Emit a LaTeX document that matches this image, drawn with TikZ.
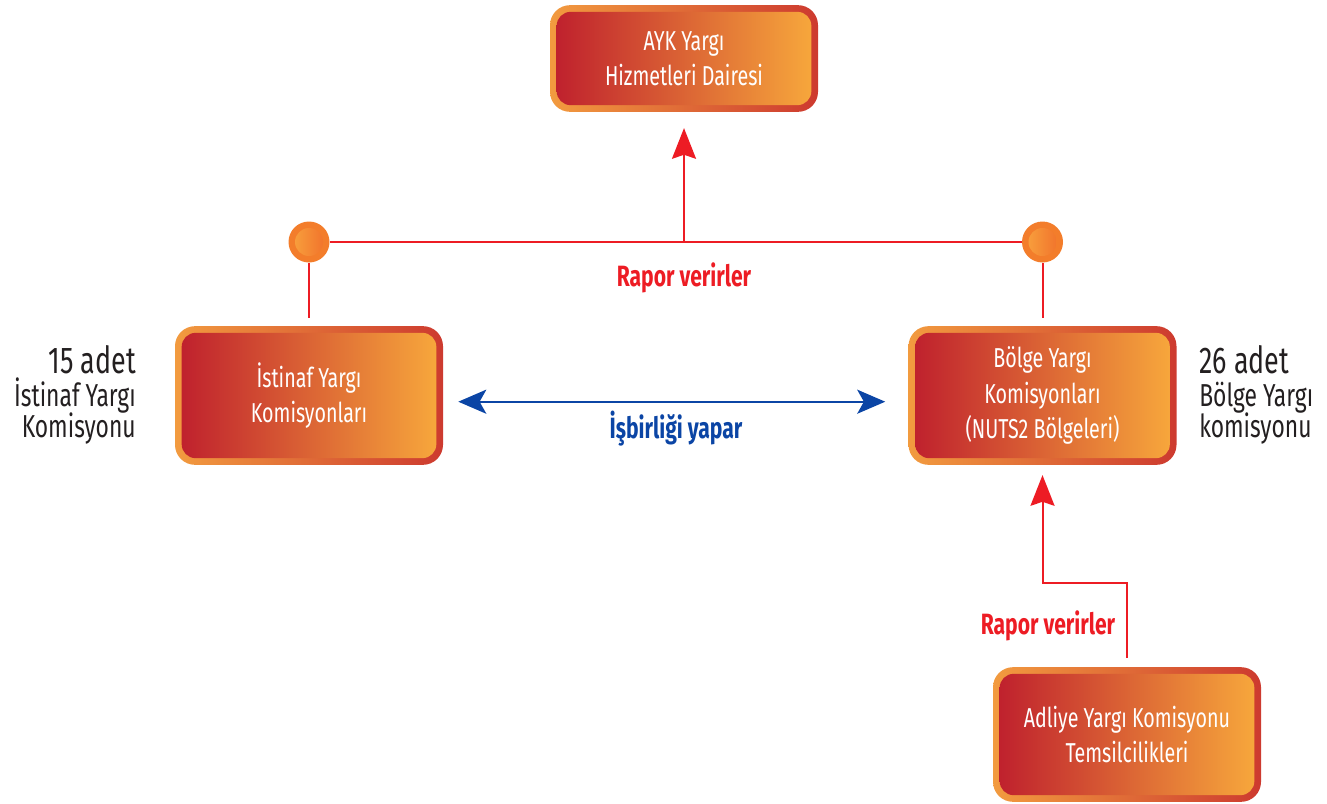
\documentclass[tikz,border=0pt]{standalone}
\usepackage{fontspec}
\setmainfont{Fira Sans}[FakeStretch=0.72]
\usetikzlibrary{arrows.meta}
\definecolor{cred}{HTML}{BE1E2D}
\definecolor{corange}{HTML}{F8AA3C}
\definecolor{bordA}{HTML}{F29B3F}
\definecolor{bordB}{HTML}{CD3A2F}
\definecolor{lred}{HTML}{ED1C24}
\definecolor{lblue}{HTML}{0B45A5}
\definecolor{ring}{HTML}{F37D2B}
\definecolor{dotA}{HTML}{F9A63F}
\definecolor{dotB}{HTML}{F06C29}
\definecolor{sidegray}{HTML}{231F20}
\begin{document}
\begin{tikzpicture}[x=0.75pt,y=-0.75pt,
  box/.style={rounded corners=15pt, minimum width=201pt, inner sep=0pt,
    left color=bordA, right color=bordB, text=white, align=center,
    font=\fontsize{20.5}{26.5}\selectfont,
    path picture={\shade[left color=cred, right color=corange, rounded corners=10.5pt]
      ([shift={(5pt,5pt)}]path picture bounding box.south west) rectangle
      ([shift={(-5pt,-5pt)}]path picture bounding box.north east);}},
  dotnode/.style={circle, minimum size=30.75pt, inner sep=0pt, fill=ring,
    path picture={\shade[left color=dotA, right color=dotB]
      (path picture bounding box.center) circle (10.5pt);}},
  redline/.style={draw=lred, line width=1.5pt},
  redarr/.style={redline, -{Stealth[length=23pt,width=18pt,inset=3pt]}},
  bluearr/.style={draw=lblue, line width=1.8pt,
    {Stealth[length=21pt,width=18pt,inset=5pt]}-{Stealth[length=21pt,width=18pt,inset=5pt]}},
  lab/.style={font=\bfseries\fontsize{22}{26}\selectfont, anchor=base, inner sep=0pt},
  sidebig/.style={font=\fontsize{28}{34}\selectfont, text=sidegray, inner sep=0pt},
  side/.style={font=\fontsize{23.8}{28}\selectfont, text=sidegray, inner sep=0pt}
]
\useasboundingbox (0,0) rectangle (1327,803);

% boxes
\node[box, minimum height=80pt] (ayk) at (684,58.5) {AYK Yargı\\Hizmetleri Dairesi};
\node[box, minimum height=104pt] (ist) at (309,395.5) {İstinaf Yargı\\Komisyonları};
\node[box, minimum height=104pt] (bol) at (1042.5,395.5) {Bölge Yargı\\Komisyonları\\(NUTS2 Bölgeleri)};
\node[box, minimum height=101pt] (adl) at (1127,734.5) {Adliye Yargı Komisyonu\\Temsilcilikleri};

% junction dots
\node[dotnode] (c1) at (309,242) {};
\node[dotnode] (c2) at (1042.5,242) {};
\coordinate (mid) at (684,242);

% connectors
\draw[redline] (c1) -- (c2);
\draw[redline, shorten >=6pt] (c1) -- (ist);
\draw[redline, shorten >=6pt] (c2) -- (bol);
\draw[redarr, shorten >=12pt] (mid) -- (ayk);
\draw[redarr, shorten <=6.75pt, shorten >=7.5pt] (adl.north) -- ++(0,-84) -| (bol.south);
\draw[bluearr, shorten <=11.25pt, shorten >=17.25pt] ([yshift=-4.65pt]ist.east) -- ([yshift=-4.65pt]bol.west);

% labels
\node[lab, text=lred] (rv1) at (684,286) {Rapor verirler};
\node[lab, text=lred] (rv2) at (1048,634) {Rapor verirler};
\node[lab, text=lblue] (isb) at (676,438) {İşbirliği yapar};

% side texts
\node[sidebig, anchor=base east] (l1) at (136,373) {15 adet};
\node[side, anchor=base east] (l2) at (136,406) {İstinaf Yargı};
\node[side, anchor=base east] (l3) at (136,437) {Komisyonu};
\node[sidebig, anchor=base west] (r1) at (1199,373) {26 adet};
\node[side, anchor=base west] (r2) at (1199,406) {Bölge Yargı};
\node[side, anchor=base west] (r3) at (1199,437) {komisyonu};
\end{tikzpicture}
\end{document}
